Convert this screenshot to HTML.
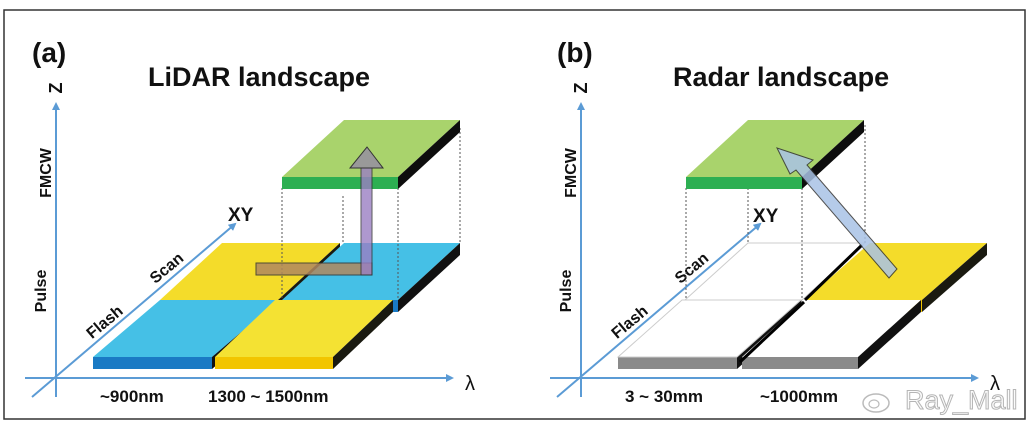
<!DOCTYPE html>
<html><head><meta charset="utf-8"><style>
body{margin:0;background:#fff}
svg text{font-family:"Liberation Sans",sans-serif;font-weight:bold;fill:#111}
</style></head><body>
<svg id="fig" width="1029" height="427" viewBox="0 0 1029 427" xmlns="http://www.w3.org/2000/svg">
<defs>
<marker id="ah" markerWidth="8" markerHeight="8" refX="6" refY="4" orient="auto" markerUnits="userSpaceOnUse"><path d="M0,0 L8,4 L0,8 Z" fill="#5b9bd5"/></marker>
</defs>
<rect x="4" y="10" width="1021" height="409" fill="#fff" stroke="#333" stroke-width="1.5"/>
<g id="panelA"></g>
<g id="panelB"></g>
</svg>
<script>
const NS='http://www.w3.org/2000/svg';
const panelTitles=['LiDAR landscape','Radar landscape'];
const panelLetters=['(a)','(b)'];
const wavelengthLabels=[['~900nm','1300 ~ 1500nm'],['3 ~ 30mm','~1000mm']];
function mk(p,tag,attrs,txt){const e=document.createElementNS(NS,tag);for(const k in attrs)e.setAttribute(k,attrs[k]);if(txt!==undefined)e.textContent=txt;p.appendChild(e);return e;}
function tile(g,x,yb,w,dx,top,front,side,name){
  const t=mk(g,'g',{});
  
  
  mk(t,'polygon',{points:`${x},${yb} ${x+w},${yb} ${x+w+dx},${yb-57} ${x+dx},${yb-57}`,fill:top});
  mk(t,'rect',{x:x,y:yb,width:w,height:12,fill:front});
  mk(t,'polygon',{points:`${x+w},${yb} ${x+w+dx},${yb-57} ${x+w+dx},${yb-45} ${x+w},${yb+12}`,fill:side});
}
function dash(g,x,y1,y2){mk(g,'line',{x1:x,y1:y1,x2:x,y2:y2,stroke:'#555','stroke-width':1,'stroke-dasharray':'2,2'});}
function axes(g,o,i,titleX){
  const ax=o+56;
  let e=mk(g,'line',{x1:ax,y1:397,x2:ax,y2:104,stroke:'#5b9bd5','stroke-width':2,'marker-end':'url(#ah)'});
  
  e=mk(g,'line',{x1:o+25,y1:378,x2:o+452,y2:378,stroke:'#5b9bd5','stroke-width':2,'marker-end':'url(#ah)'});
  
  e=mk(g,'line',{x1:o+32,y1:397,x2:o+235,y2:224,stroke:'#5b9bd5','stroke-width':2,'marker-end':'url(#ah)'});
  
  e=mk(g,'text',{x:o+32,y:62,'font-size':28},panelLetters[i]);
  
  e=mk(g,'text',{x:titleX,y:86,'font-size':27},panelTitles[i]);
  
  e=mk(g,'text',{x:0,y:0,'font-size':18,transform:`translate(${o+62},88) rotate(-90)`,'text-anchor':'middle'},'Z');
  
  e=mk(g,'text',{x:0,y:0,'font-size':16,transform:`translate(${o+51},173) rotate(-90)`,'text-anchor':'middle'},'FMCW');
  
  e=mk(g,'text',{x:0,y:0,'font-size':16,transform:`translate(${o+46},291) rotate(-90)`,'text-anchor':'middle'},'Pulse');
  
  e=mk(g,'text',{x:0,y:0,'font-size':16,transform:`translate(${o+108},326) rotate(-40)`,'text-anchor':'middle'},'Flash');
  
  e=mk(g,'text',{x:0,y:0,'font-size':16,transform:`translate(${o+170},272) rotate(-40)`,'text-anchor':'middle'},'Scan');
  
  e=mk(g,'text',{x:o+465,y:390,'font-size':20,style:'font-weight:normal'},'λ');
  
}
// Panel A
const A=document.getElementById('panelA');
axes(A,0,0,148);
tile(A,160,300,118,62,'#f4dc2a','#f2c500','#1a1a10','tile-scan-900');
tile(A,282,300,116,62,'#45c0e6','#1a7ac4','#111','tile-scan-1500');
tile(A,93,357,119,67,'#45c0e6','#1a7ac4','#111','tile-flash-900');
tile(A,215,357,118,60,'#f4e233','#f2c500','#1a1a10','tile-flash-1500');
dash(A,282,188,300);dash(A,343,196,243);dash(A,398,188,300);dash(A,460,128,243);
tile(A,282,177,116,62,'#a9d36c','#2daf52','#0d0d0d','tile-fmcw');
let e=mk(A,'rect',{x:256,y:263,width:116,height:12,fill:'#b08860',stroke:'#333','stroke-width':1,opacity:0.85});

e=mk(A,'rect',{x:361,y:168,width:11,height:107,fill:'#9b7fc4',stroke:'#333','stroke-width':1,opacity:0.8});

e=mk(A,'polygon',{points:'350,168 383,168 367,147',fill:'#999',stroke:'#333','stroke-width':1});

e=mk(A,'text',{x:228,y:221,'font-size':19},'XY');

wavelengthLabels[0].forEach((t,k)=>{const x=[100,208][k];
 const el=mk(A,'text',{x:x,y:402,'font-size':17},t);
 });
// Panel B
const B=document.getElementById('panelB');
const o=515;
axes(B,o+10,1,673);
tile(B,685,300,117,63,'#fff','#8a8a8a','#fff','tile-scan-mm');
mk(B,'polygon',{points:'685,300 802,300 865,243 748,243',fill:'none',stroke:'#ccc','stroke-width':1});
tile(B,805,300,117,65,'#f4dc2a','#f2c500','#1a1a10','tile-scan-1000mm');
tile(B,618,357,119,64,'#fff','#8a8a8a','#111','tile-flash-mm');
mk(B,'polygon',{points:'618,357 737,357 801,300 682,300',fill:'none',stroke:'#ccc','stroke-width':1});
tile(B,742,357,116,63,'#fff','#8a8a8a','#111','tile-flash-1000mm');
mk(B,'line',{x1:740,y1:362,x2:804,y2:302,stroke:'#000','stroke-width':3});
mk(B,'line',{x1:805,y1:300,x2:862,y2:245,stroke:'#000','stroke-width':3});
dash(B,686,188,300);dash(B,748,188,243);dash(B,802,188,300);dash(B,865,125,243);
tile(B,686,177,116,62,'#a9d36c','#2daf52','#0d0d0d','tile-fmcw');
e=mk(B,'polygon',{points:'889,278 897,269 807,165 813,160 777,148 790,174 796,170',fill:'#a9c3e6',stroke:'#333','stroke-width':1,opacity:0.85});

e=mk(B,'text',{x:753,y:222,'font-size':19},'XY');

wavelengthLabels[1].forEach((t,k)=>{const x=[625,760][k];
 const el=mk(B,'text',{x:x,y:402,'font-size':17},t);
 });
e=mk(B,'text',{x:905,y:409,'font-size':27,style:'font-weight:normal;fill:#fbfbfb;stroke:#b5b5b5;stroke-width:1'},'Ray_Mall');

mk(B,'ellipse',{cx:876,cy:403,rx:13,ry:9,fill:'none',stroke:'#bbb','stroke-width':1.5});
mk(B,'ellipse',{cx:874,cy:404,rx:5,ry:4,fill:'none',stroke:'#bbb','stroke-width':1.2});
</script>
</body></html>
